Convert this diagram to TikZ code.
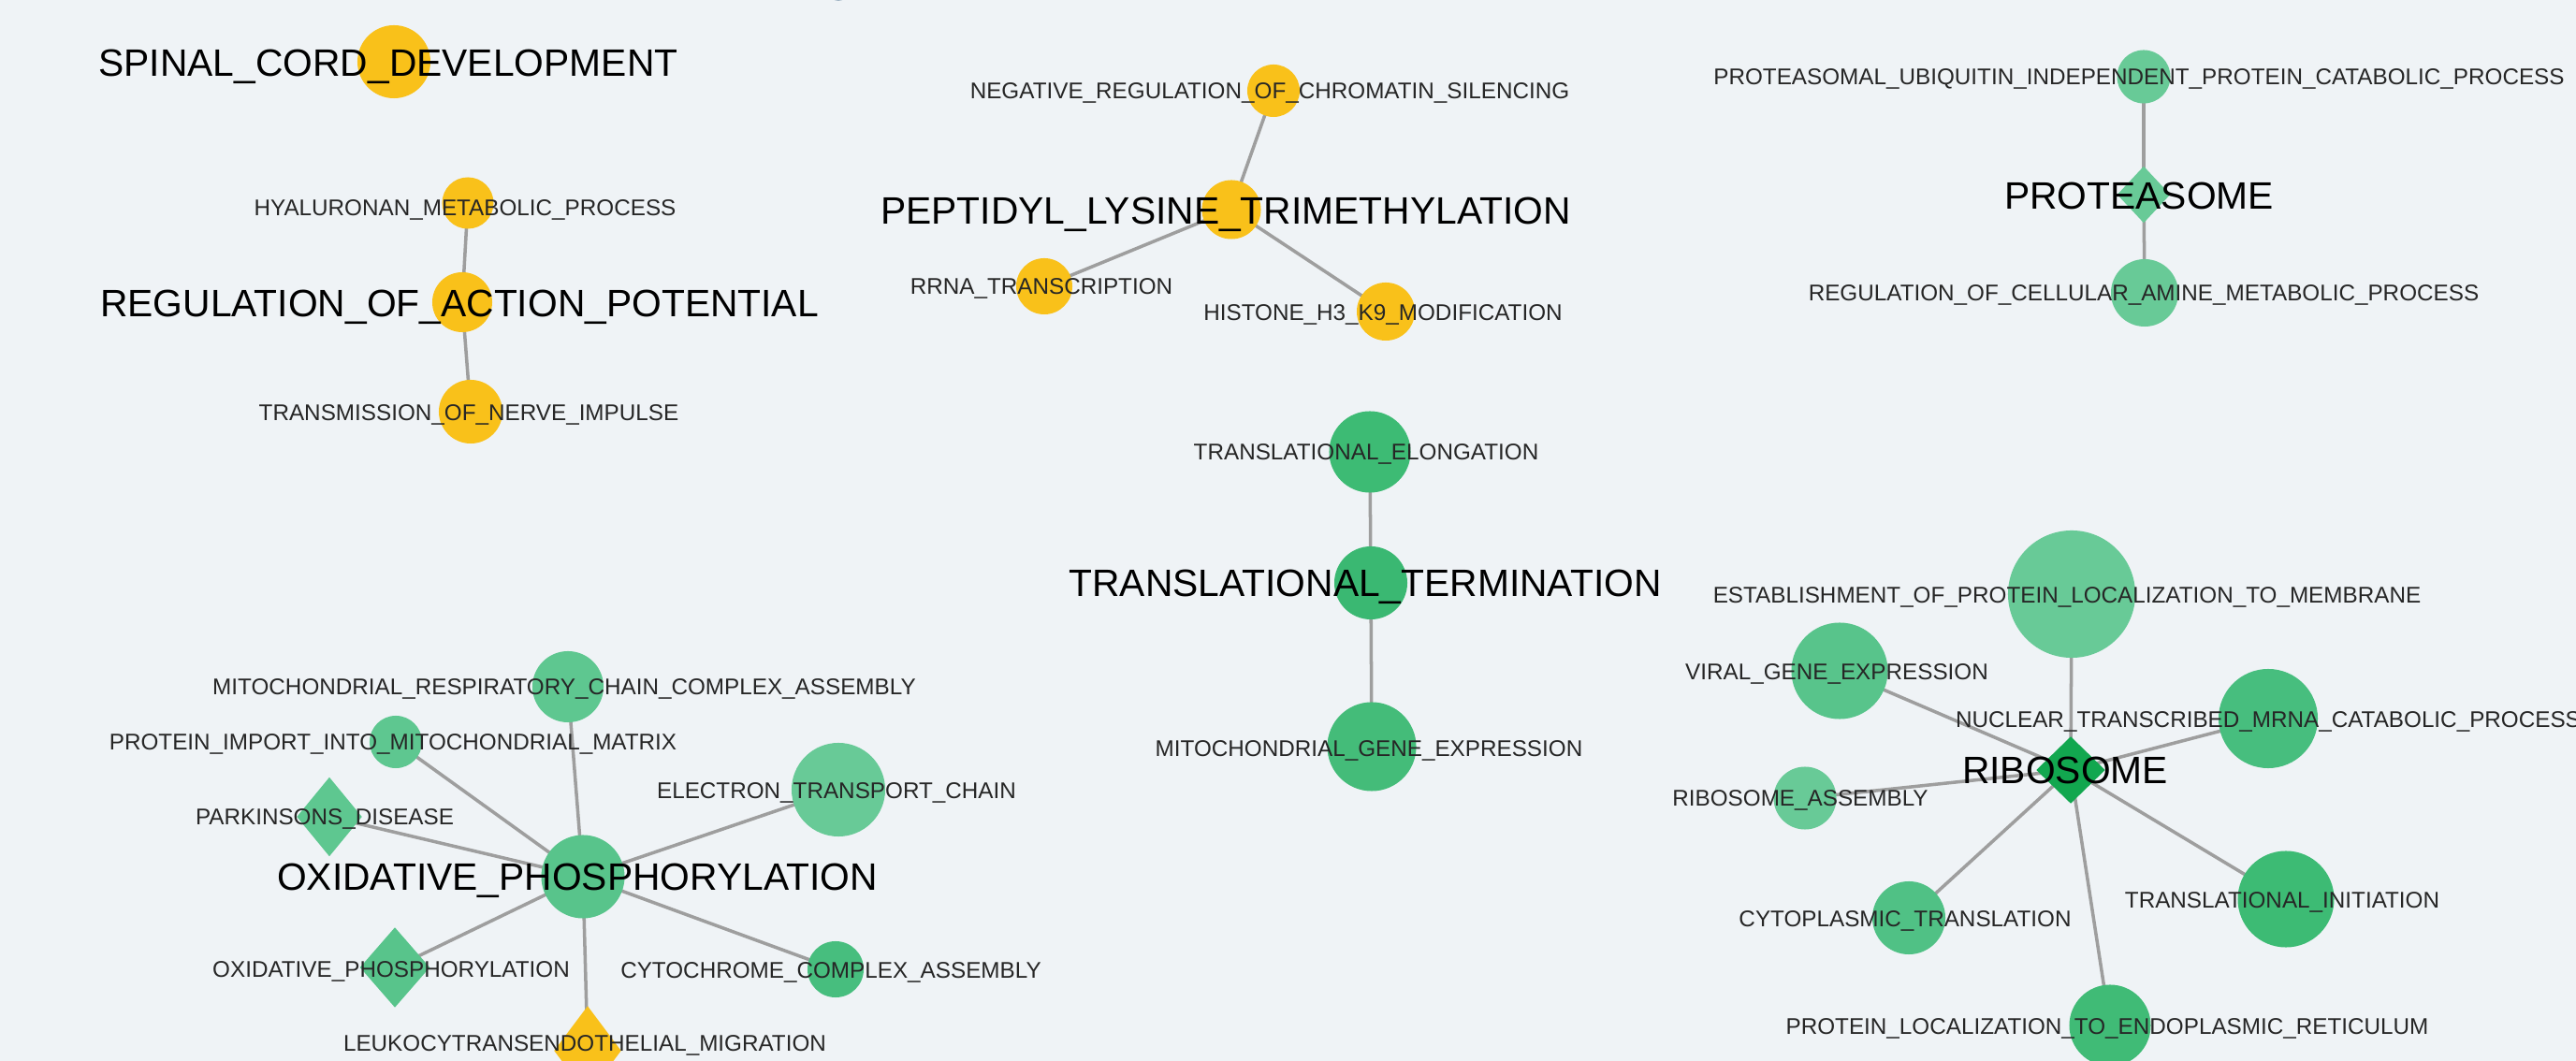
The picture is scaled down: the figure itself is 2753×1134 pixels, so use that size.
\documentclass[tikz,border=0pt]{standalone}
\usepackage{fontspec}
\setmainfont{Liberation Sans}
\usetikzlibrary{shapes.geometric}
\pgfdeclarelayer{bglayer}
\pgfdeclarelayer{edgelayer}
\pgfsetlayers{bglayer,edgelayer,main}
\definecolor{bgc}{RGB}{239,243,246}
\definecolor{ylw}{RGB}{249,193,26}
\definecolor{edgec}{RGB}{158,158,158}
\definecolor{gA}{RGB}{104,202,151}
\definecolor{gB}{RGB}{94,199,144}
\definecolor{gC}{RGB}{88,196,139}
\definecolor{gD}{RGB}{71,190,126}
\definecolor{gE}{RGB}{61,187,116}
\definecolor{gF}{RGB}{58,184,114}
\definecolor{gG}{RGB}{68,188,121}
\definecolor{gH}{RGB}{80,193,133}
\definecolor{gI}{RGB}{64,187,118}
\definecolor{gDia}{RGB}{18,167,79}
\definecolor{smallc}{RGB}{38,38,38}
\definecolor{sliver}{RGB}{160,180,196}
\begin{document}
\begin{tikzpicture}[x=0.01cm,y=-0.01cm,
  cnode/.style={circle,inner sep=0pt,minimum size=#1},
  dnode/.style 2 args={diamond,inner sep=0pt,minimum width=#1,minimum height=#2},
  edge/.style={draw=edgec,line width=1pt},
  biglab/.style={inner sep=0pt,text height=8.3pt,text depth=0pt,text=black,font=\fontsize{11.6}{12}\selectfont},
  smalllab/.style={inner sep=0pt,text height=4.95pt,text depth=0pt,text=smallc,font=\fontsize{6.9}{8}\selectfont}]
\useasboundingbox (0,0) rectangle (2753,1134);
\begin{pgfonlayer}{bglayer}
\fill[bgc] (0,0) rectangle (2753,1134);
\end{pgfonlayer}
\clip (0,0) rectangle (2753,1134);
\fill[sliver] (896,-9) circle (10);
% yellow group 1
\node[cnode=0.78cm,fill=ylw] (spinal) at (421,66) {};
\node[cnode=0.55cm,fill=ylw] (hyal) at (500,217) {};
\node[cnode=0.64cm,fill=ylw] (regap) at (494,323) {};
\node[cnode=0.68cm,fill=ylw] (trans) at (503,440) {};
% yellow group 2
\node[cnode=0.56cm,fill=ylw] (negreg) at (1361,97) {};
\node[cnode=0.63cm,fill=ylw] (pept) at (1316,224) {};
\node[cnode=0.60cm,fill=ylw] (rrna) at (1116,306) {};
\node[cnode=0.62cm,fill=ylw] (hist) at (1481,333) {};
% proteasome group
\node[cnode=0.57cm,fill=gA] (pubiq) at (2291,82) {};
\node[dnode={0.57cm}{0.61cm},fill=gA] (prot) at (2291,208) {};
\node[cnode=0.72cm,fill=gA] (regcell) at (2292,313) {};
% translation group
\node[cnode=0.87cm,fill=gE] (telong) at (1464,483) {};
\node[cnode=0.78cm,fill=gF] (tterm) at (1465,623) {};
\node[cnode=0.95cm,fill=gG] (mitogene) at (1466,798) {};
% oxphos group
\node[cnode=0.76cm,fill=gB] (mresp) at (607,734) {};
\node[cnode=0.56cm,fill=gB] (pimport) at (423,793) {};
\node[cnode=1.00cm,fill=gA] (etc) at (896,844) {};
\node[dnode={0.70cm}{0.85cm},fill=gB] (park) at (352,873) {};
\node[cnode=0.89cm,fill=gC] (oxc) at (623,937) {};
\node[dnode={0.75cm}{0.86cm},fill=gC] (oxd) at (422,1034) {};
\node[cnode=0.60cm,fill=gD] (cyto) at (893,1036) {};
\node[dnode={0.72cm}{0.96cm},fill=ylw] (leuk) at (628,1123) {};
% ribosome group
\node[cnode=1.36cm,fill=gA] (estab) at (2214,635) {};
\node[cnode=1.03cm,fill=gC] (viral) at (1966,717) {};
\node[cnode=1.06cm,fill=gD] (nuclear) at (2424,768) {};
\node[dnode={0.74cm}{0.72cm},fill=gDia] (ribo) at (2213,823) {};
\node[cnode=0.67cm,fill=gA] (rasm) at (1929,853) {};
\node[cnode=0.78cm,fill=gH] (cytopl) at (2040,981) {};
\node[cnode=1.03cm,fill=gE] (tinit) at (2443,961) {};
\node[cnode=0.87cm,fill=gI] (ploc) at (2255,1096) {};
% edges
\begin{pgfonlayer}{edgelayer}
\draw[edge] (regap.center) -- (hyal.center);
\draw[edge] (regap.center) -- (trans.center);
\draw[edge] (pept.center) -- (negreg.center);
\draw[edge] (pept.center) -- (rrna.center);
\draw[edge] (pept.center) -- (hist.center);
\draw[edge] (prot.center) -- (pubiq.center);
\draw[edge] (prot.center) -- (regcell.center);
\draw[edge] (tterm.center) -- (telong.center);
\draw[edge] (tterm.center) -- (mitogene.center);
\draw[edge] (oxc.center) -- (mresp.center);
\draw[edge] (oxc.center) -- (pimport.center);
\draw[edge] (oxc.center) -- (etc.center);
\draw[edge] (oxc.center) -- (park.center);
\draw[edge] (oxc.center) -- (oxd.center);
\draw[edge] (oxc.center) -- (cyto.center);
\draw[edge] (oxc.center) -- (leuk.center);
\draw[edge] (ribo.center) -- (estab.center);
\draw[edge] (ribo.center) -- (viral.center);
\draw[edge] (ribo.center) -- (nuclear.center);
\draw[edge] (ribo.center) -- (rasm.center);
\draw[edge] (ribo.center) -- (cytopl.center);
\draw[edge] (ribo.center) -- (tinit.center);
\draw[edge] (ribo.center) -- (ploc.center);
\end{pgfonlayer}
% labels
\node[biglab] (l-spinal) at (415,67) {SPINAL\_CORD\_DEVELOPMENT};
\node[smalllab] (l-hyal) at (497,222) {HYALURONAN\_METABOLIC\_PROCESS};
\node[biglab] (l-regap) at (491,324) {REGULATION\_OF\_ACTION\_POTENTIAL};
\node[smalllab] (l-trans) at (501,441) {TRANSMISSION\_OF\_NERVE\_IMPULSE};
\node[smalllab] (l-negreg) at (1357,97) {NEGATIVE\_REGULATION\_OF\_CHROMATIN\_SILENCING};
\node[biglab] (l-pept) at (1310,225) {PEPTIDYL\_LYSINE\_TRIMETHYLATION};
\node[smalllab] (l-rrna) at (1113,306) {RRNA\_TRANSCRIPTION};
\node[smalllab] (l-hist) at (1478,334) {HISTONE\_H3\_K9\_MODIFICATION};
\node[smalllab] (l-pubiq) at (2286,82) {PROTEASOMAL\_UBIQUITIN\_INDEPENDENT\_PROTEIN\_CATABOLIC\_PROCESS};
\node[biglab] (l-prot) at (2286,209) {PROTEASOME};
\node[smalllab] (l-regcell) at (2291,313) {REGULATION\_OF\_CELLULAR\_AMINE\_METABOLIC\_PROCESS};
\node[smalllab] (l-telong) at (1460,483) {TRANSLATIONAL\_ELONGATION};
\node[biglab] (l-tterm) at (1459,623) {TRANSLATIONAL\_TERMINATION};
\node[smalllab] (l-mitogene) at (1463,800) {MITOCHONDRIAL\_GENE\_EXPRESSION};
\node[smalllab] (l-mresp) at (603,734) {MITOCHONDRIAL\_RESPIRATORY\_CHAIN\_COMPLEX\_ASSEMBLY};
\node[smalllab] (l-pimport) at (420,793) {PROTEIN\_IMPORT\_INTO\_MITOCHONDRIAL\_MATRIX};
\node[smalllab] (l-etc) at (894,845) {ELECTRON\_TRANSPORT\_CHAIN};
\node[smalllab] (l-park) at (347,873) {PARKINSONS\_DISEASE};
\node[biglab] (l-oxc) at (617,937) {OXIDATIVE\_PHOSPHORYLATION};
\node[smalllab] (l-oxd) at (418,1036) {OXIDATIVE\_PHOSPHORYLATION};
\node[smalllab] (l-cyto) at (888,1037) {CYTOCHROME\_COMPLEX\_ASSEMBLY};
\node[smalllab] (l-leuk) at (625,1115) {LEUKOCYTRANSENDOTHELIAL\_MIGRATION};
\node[smalllab] (l-estab) at (2209,636) {ESTABLISHMENT\_OF\_PROTEIN\_LOCALIZATION\_TO\_MEMBRANE};
\node[smalllab] (l-viral) at (1963,718) {VIRAL\_GENE\_EXPRESSION};
\node[smalllab] (l-nuclear) at (2424,769) {NUCLEAR\_TRANSCRIBED\_MRNA\_CATABOLIC\_PROCESS};
\node[biglab] (l-ribo) at (2207,823) {RIBOSOME};
\node[smalllab] (l-rasm) at (1924,853) {RIBOSOME\_ASSEMBLY};
\node[smalllab] (l-cytopl) at (2036,982) {CYTOPLASMIC\_TRANSLATION};
\node[smalllab] (l-tinit) at (2439,962) {TRANSLATIONAL\_INITIATION};
\node[smalllab] (l-ploc) at (2252,1097) {PROTEIN\_LOCALIZATION\_TO\_ENDOPLASMIC\_RETICULUM};
\end{tikzpicture}
\end{document}
